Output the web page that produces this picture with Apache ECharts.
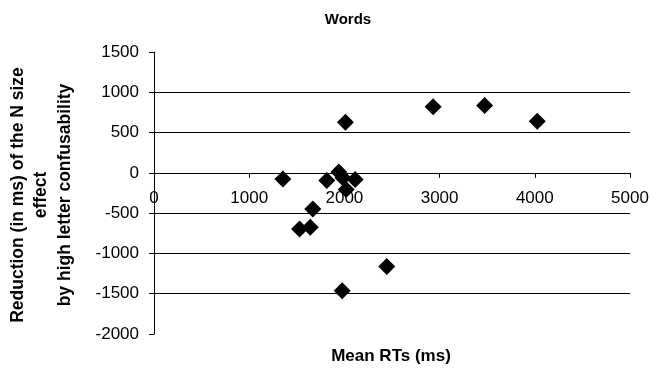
<!DOCTYPE html>
<html><head><meta charset="utf-8">
<script src="https://cdn.jsdelivr.net/npm/echarts@6/dist/echarts.min.js"></script>
<style>html,body{margin:0;padding:0;background:#fff}#c{width:651px;height:375px}</style>
</head><body><div id="c"></div>
<script>
const meanRT = [1354, 1815, 1941, 1983, 2019, 2113, 2011, 1668, 1529, 1641, 2445, 1977, 2932, 3473, 4026];
const reduction = [-75, -96, 12, -62, -208, -83, 629, -448, -697, -676, -1162, -1464, 821, 837, 642];
const title = 'Words';
const xName = 'Mean RTs (ms)';
const yNameLines = ['Reduction (in ms) of the N size', 'effect', 'by high letter confusability'];

const font = 'Liberation Sans, Arial, sans-serif';
const gridTop = 52, gridBottom = 334;
const yMin = -2000, yMax = 1500;
const zeroY = gridTop + (yMax / (yMax - yMin)) * (gridBottom - gridTop);
const chart = echarts.init(document.getElementById('c'));
chart.setOption({
  animation: false,
  backgroundColor: '#fff',
  title: { text: title, left: 343, top: 7, textAlign: 'center',
    textStyle: { fontFamily: font, fontSize: 15, fontWeight: 'bold', color: '#000' } },
  grid: { left: 154, right: 21, top: gridTop, bottom: 375 - gridBottom, containLabel: false, outerBoundsMode: 'none' },
  xAxis: {
    type: 'value', min: 0, max: 5000, interval: 1000,
    offset: -(gridBottom - zeroY),
    axisLine: { onZero: false, lineStyle: { color: '#000', width: 1 } },
    axisTick: { show: true, length: 5, inside: false, lineStyle: { color: '#000' } },
    axisLabel: { fontFamily: font, fontSize: 17, color: '#000', margin: 17, formatter: v => String(v) },
    splitLine: { show: false }
  },
  yAxis: {
    type: 'value', min: yMin, max: yMax, interval: 500,
    axisLine: { show: true, lineStyle: { color: '#000', width: 1 } },
    axisTick: { show: true, length: 5, lineStyle: { color: '#000' } },
    axisLabel: { fontFamily: font, fontSize: 17, color: '#000', margin: 15, formatter: v => String(v) },
    splitLine: { show: true, showMinLine: false, showMaxLine: false, lineStyle: { color: '#000', width: 1 } }
  },
  graphic: yNameLines.map((t, i) => ({
    type: 'text', x: 18 + i * 23.5, y: 195, rotation: Math.PI / 2,
    style: { text: t, fontFamily: font, fontSize: 17.5, fontWeight: 'bold', fill: '#000', align: 'center', verticalAlign: 'middle' }
  })).concat([{
    type: 'text', x: 391, y: 356,
    style: { text: xName, fontFamily: font, fontSize: 17, fontWeight: 'bold', fill: '#000', align: 'center', verticalAlign: 'middle' }
  }]),
  series: [{
    type: 'scatter', symbol: 'diamond', symbolSize: 17,
    itemStyle: { color: '#000', opacity: 1 },
    data: meanRT.map((x, i) => [x, reduction[i]])
  }]
});
</script></body></html>
